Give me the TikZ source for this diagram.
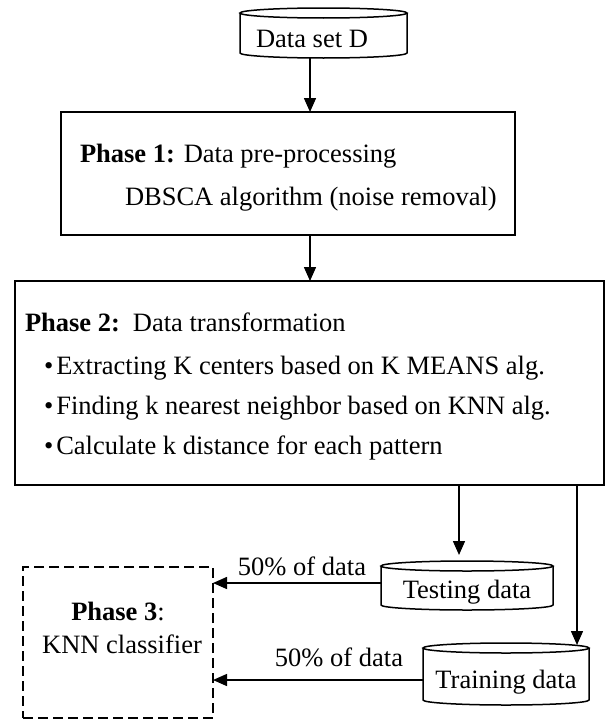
\documentclass[tikz,border=0pt]{standalone}
\usepackage{fontspec}
\setmainfont{Liberation Serif}
\usetikzlibrary{arrows.meta,calc}
\newcommand\cylshape[6]{%
  \node[minimum width=#4pt, minimum height=#5pt] (#1) at (#2,#3) {};
  \draw[cylline] ($(#1.north west)+(0,#6)$) -- ($(#1.south west)+(0,-#6)$)
     arc[start angle=180, end angle=360, x radius={#4pt/2}, y radius=#6pt] -- ($(#1.north east)+(0,#6)$);
  \draw[cylline] ($(#1.north)+(0,#6)$) ellipse[x radius={#4pt/2}, y radius=#6pt];
}
\begin{document}
\begin{tikzpicture}[x=1pt,y=-1pt,
  every node/.style={inner sep=0pt, outer sep=0pt},
  txt/.style={font=\fontsize{26.5}{30}\selectfont},
  box/.style={draw, line width=2.2pt},
  dbox/.style={draw, line width=1.8pt, dash pattern=on 10pt off 5pt},
  cylline/.style={line width=1.5pt},
  arr/.style={line width=1.5pt, -{Triangle[length=14pt,width=12pt]}},
]
\useasboundingbox (0,0) rectangle (606,720);

% boxes
\node[box, minimum width=454pt, minimum height=123pt] (p1) at (288,173.5) {};
\node[box, minimum width=589pt, minimum height=204pt] (p2) at (309.5,383) {};
\node[dbox, minimum width=190pt, minimum height=151pt] (p3) at (118,642.5) {};

% cylinders
\cylshape{ds}{323.5}{33}{167}{50}{5}
\cylshape{ts}{467}{585.5}{172}{49}{5}
\cylshape{tr}{506}{674}{166}{62}{5}

% texts
\node[txt, anchor=base] (dst) at (312,47) {Data set D};
\node[txt, anchor=base] (tst) at (467,598) {Testing data};
\node[txt, anchor=base] (trt) at (506,688) {Training data};

\node[txt, anchor=base west] (p1a) at (80,162) {\textbf{Phase 1:} Data pre-processing};
\node[txt, anchor=base west] (p1b) at (125,205) {DBSCA algorithm (noise removal)};

\node[txt, anchor=base west] (p2a) at (25,331) {\textbf{Phase 2:}\hspace{13pt}Data transformation};
\node[txt, anchor=base west] (p2b) at (44,374) {\textbullet\hspace{3pt}Extracting K centers based on K MEANS alg.};
\node[txt, anchor=base west] (p2c) at (44,414) {\textbullet\hspace{3pt}Finding k nearest neighbor based on KNN alg.};
\node[txt, anchor=base west] (p2d) at (44,454) {\textbullet\hspace{3pt}Calculate k distance for each pattern};

\node[txt, anchor=base] (p3a) at (118,620) {\textbf{Phase 3}:};
\node[txt, anchor=base] (p3b) at (122,653) {KNN classifier};

\node[txt, anchor=base] (l1) at (302,575) {50\% of data};
\node[txt, anchor=base] (l2) at (339,666) {50\% of data};

% connectors
\coordinate (a1) at (310,58);
\coordinate (a3) at (459,485);
\coordinate (a4) at (577,485);
\draw[arr] (a1 |- ds.south) -- (a1 |- p1.north);
\draw[arr] (a1 |- p1.south) -- (a1 |- p2.north);
\draw[arr] (a3 |- p2.south) -- ($(a3 |- ts.north)+(0,-6)$);
\draw[arr] (a4 |- p2.south) -- ($(a4 |- tr.north)+(0,2)$);
\draw[arr] ($(ts.west)+(0,-2.5)$) -- ($(ts.west -| p3.east)+(0,-2.5)$);
\draw[arr] ($(tr.west)+(0,6)$) -- ($(tr.west -| p3.east)+(0,6)$);
\end{tikzpicture}
\end{document}
